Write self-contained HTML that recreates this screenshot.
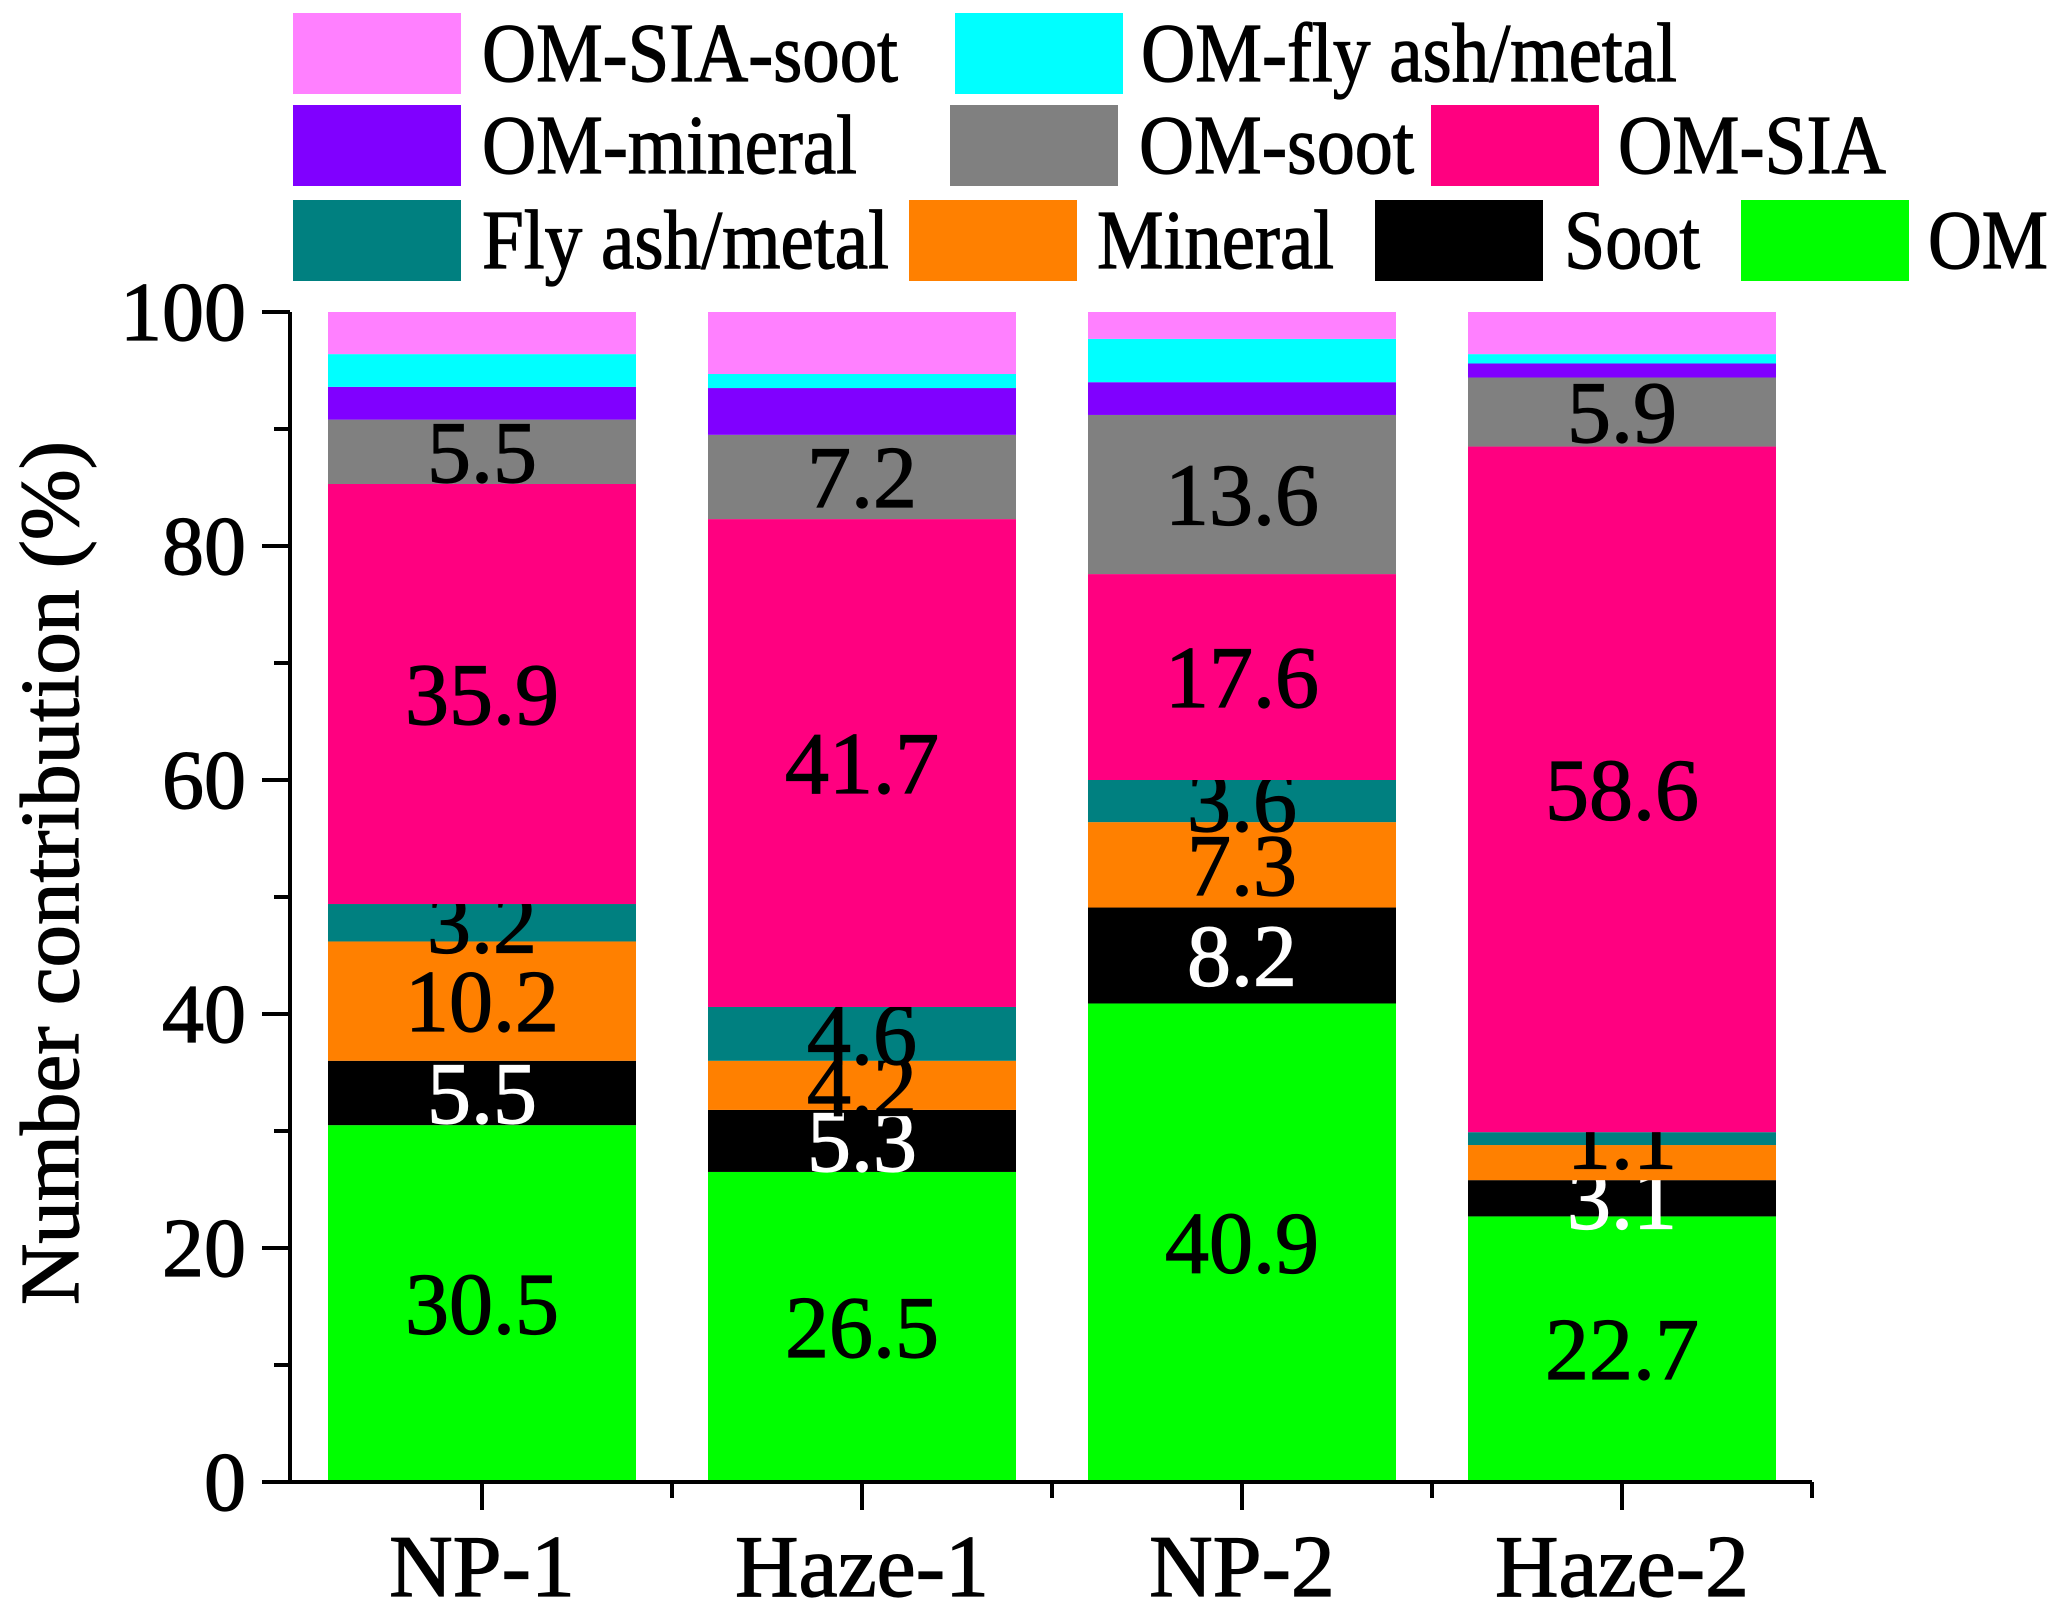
<!DOCTYPE html>
<html><head><meta charset="utf-8"><style>html,body{margin:0;padding:0;background:#fff}svg{display:block}text{stroke:currentColor;stroke-width:1.2px}</style></head>
<body>
<svg id="chart" width="2067" height="1606" viewBox="0 0 2067 1606" xmlns="http://www.w3.org/2000/svg" font-family="'Liberation Serif', serif">
</svg>
<script>
const categories = ["NP-1","Haze-1","NP-2","Haze-2"];
const seriesNames = ["OM","Soot","Mineral","Fly ash/metal","OM-SIA","OM-soot","OM-mineral","OM-fly ash/metal","OM-SIA-soot"];
const omVals = [30.5,26.5,40.9,22.7];
const sootVals = [5.5,5.3,8.2,3.1];
const mineralVals = [10.2,4.2,7.3,3.0];
const flyAshVals = [3.2,4.6,3.6,1.1];
const omSiaVals = [35.9,41.7,17.6,58.6];
const omSootVals = [5.5,7.2,13.6,5.9];
const omMineralVals = [2.8,4.0,2.8,1.2];
const omFlyVals = [2.8,1.2,3.7,0.8];
const omSiaSootVals = [3.6,5.3,2.3,3.6];
const yTicks = [0,20,40,60,80,100];
const segLabels = [
  ["30.5","26.5","40.9","22.7"],
  ["5.5","5.3","8.2","3.1"],
  ["10.2","4.2","7.3",""],
  ["3.2","4.6","3.6","1.1"],
  ["35.9","41.7","17.6","58.6"],
  ["5.5","7.2","13.6","5.9"],
  ["","","",""],["","","",""],["","","",""]
];
const seriesValues = [omVals,sootVals,mineralVals,flyAshVals,omSiaVals,omSootVals,omMineralVals,omFlyVals,omSiaSootVals];
const colors = ["#00ff00","#000000","#ff8000","#008080","#ff0080","#808080","#8000ff","#00ffff","#ff80ff"];
const labelColors = ["#000","#fff","#000","#000","#000","#000","#000","#000","#000"];

const svg = document.getElementById('chart');
const NS = "http://www.w3.org/2000/svg";
const x0 = 290, x1 = 1812, yTop = 312, yBot = 1482;
const yScale = v => yBot - (v/100)*(yBot-yTop);
const bandStart = 328, bandStep = 380, barW = 308;
const xCenter = i => bandStart + i*bandStep + barW/2;
function mk(tag, attrs, parent){const e=document.createElementNS(NS,tag);for(const k in attrs)e.setAttribute(k,attrs[k]);(parent||svg).appendChild(e);return e;}

categories.forEach((c,i)=>{
  let cum=0;
  seriesValues.forEach((vals,s)=>{
    const v=vals[i];
    const r=mk('rect',{x:xCenter(i)-barW/2,y:yScale(cum+v),width:barW,height:yScale(cum)-yScale(cum+v),fill:colors[s]});
    
    
    const lab=segLabels[s][i];
    if(lab){
      const t=mk('text',{x:xCenter(i),y:yScale(cum+v/2)+30,'text-anchor':'middle','font-size':88,fill:labelColors[s],color:labelColors[s]});
      t.textContent=lab;
      
      
    }
    cum+=v;
  });
});

const ax=mk('g',{stroke:'#000','stroke-width':4,fill:'none'});


mk('line',{x1:x0,y1:yTop,x2:x0,y2:yBot+2},ax);
mk('line',{x1:x0-2,y1:yBot,x2:x1,y2:yBot},ax);
for(let v=0;v<=100;v+=10){
  const major=v%20===0;
  mk('line',{x1:x0-(major?28:16),y1:yScale(v),x2:x0,y2:yScale(v)},ax);
}
yTicks.forEach(v=>{
  const t=mk('text',{x:246,y:yScale(v)+28,'text-anchor':'end','font-size':84,fill:'#000',color:'#000'});
  t.textContent=v;
  
  
});
categories.forEach((c,i)=>{
  mk('line',{x1:xCenter(i),y1:yBot,x2:xCenter(i),y2:yBot+28},ax);
  mk('line',{x1:xCenter(i)+bandStep/2,y1:yBot,x2:xCenter(i)+bandStep/2,y2:yBot+16},ax);
  const t=mk('text',{x:xCenter(i),y:1596,'text-anchor':'middle','font-size':88,fill:'#000',color:'#000'});
  t.textContent=c;
  
  
});
const yt=mk('text',{x:0,y:0,'text-anchor':'middle','font-size':84,fill:'#000',color:'#000',textLength:864,lengthAdjust:'spacingAndGlyphs',transform:'translate(78,873) rotate(-90)'});
yt.textContent='Number contribution  (%)';



const legend=[
  [8,293,13,482,416],[7,955,13,1141,536],
  [6,293,105,482,375],[5,950,105,1139,275],[4,1431,105,1618,268],
  [3,293,200,482,407],[2,909,200,1097,237],[1,1375,200,1564,136],[0,1741,200,1928,120]
];
legend.forEach(([s,sx,sy,tx,tw])=>{
  const g=mk('g',{});
  
  
  mk('rect',{x:sx,y:sy,width:168,height:81,fill:colors[s]},g);
  const t=mk('text',{x:tx,y:sy+68,'font-size':84,fill:'#000',color:'#000',textLength:tw,lengthAdjust:'spacingAndGlyphs'},g);
  t.textContent=seriesNames[s];
});
</script>
</body></html>
